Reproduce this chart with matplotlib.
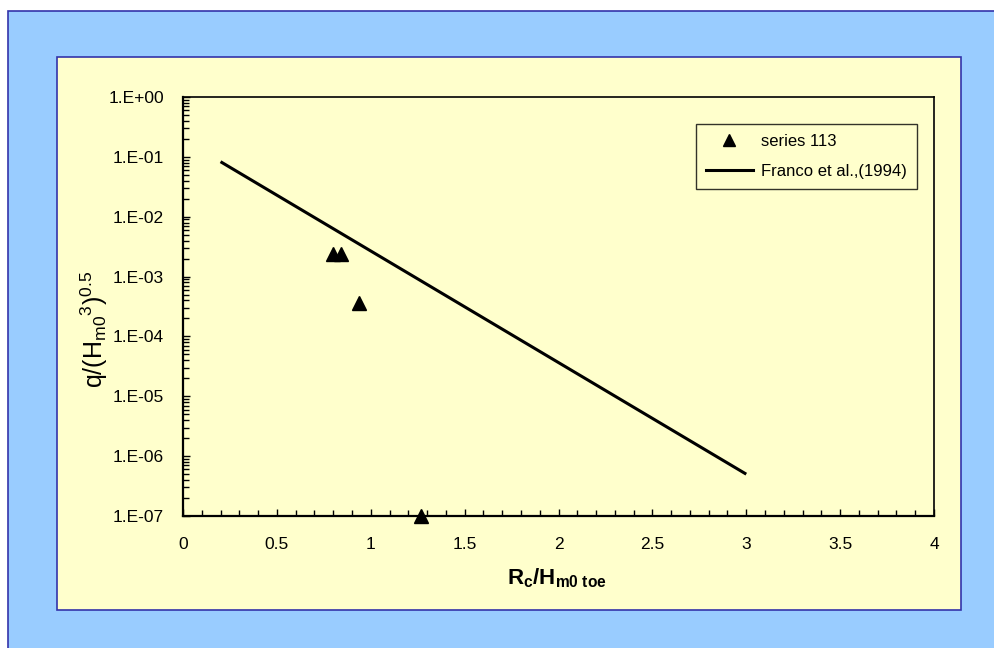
import matplotlib
matplotlib.use("Agg")
import matplotlib.pyplot as plt
from matplotlib.patches import Rectangle
from matplotlib.lines import Line2D
from matplotlib.ticker import FixedLocator, MultipleLocator, LogLocator, NullFormatter
import numpy as np

plt.rcParams['font.family'] = ['Liberation Sans', 'DejaVu Sans']
plt.rcParams['mathtext.fontset'] = 'custom'
plt.rcParams['mathtext.rm'] = 'Liberation Sans'
plt.rcParams['mathtext.it'] = 'Liberation Sans'
plt.rcParams['mathtext.bf'] = 'Liberation Sans:bold'

# data
series_x = [0.80, 0.84, 0.94, 1.27]
series_y = [2.35e-3, 2.35e-3, 3.6e-4, 1.0e-7]
franco_x = [0.2, 3.0]
franco_y = [8.3e-2, 5.0e-7]
xticks = [0, 0.5, 1, 1.5, 2, 2.5, 3, 3.5, 4]
xtick_labels = ['0', '0.5', '1', '1.5', '2', '2.5', '3', '3.5', '4']
yticks = [1e0, 1e-1, 1e-2, 1e-3, 1e-4, 1e-5, 1e-6, 1e-7]
ytick_labels = ['1.E+00', '1.E-01', '1.E-02', '1.E-03', '1.E-04', '1.E-05', '1.E-06', '1.E-07']

W, H = 994, 648
fig = plt.figure(figsize=(W / 100, H / 100), dpi=100)
fig.patch.set_facecolor('white')

def frect(x0, y0, x1, y1, **kw):
    # pixel coords (top-left origin) -> figure fraction
    return Rectangle((x0 / W, 1 - y1 / H), (x1 - x0) / W, (y1 - y0) / H,
                     transform=fig.transFigure, zorder=-10, **kw)

fig.patches.append(frect(8, 11, 1000, 660, facecolor='#99CCFF', edgecolor='#3333AA', linewidth=1.2))
fig.patches.append(frect(57, 57, 961, 610, facecolor='#FFFFCC', edgecolor='#3333AA', linewidth=1.2))

ax = fig.add_axes([183 / W, 1 - 516 / H, (934 - 183) / W, (516 - 97) / H])
ax.set_facecolor('#FFFFCC')
ax.set_yscale('log')
ax.set_xlim(0, 4)
ax.set_ylim(1e-7, 1e0)

ax.plot(franco_x, franco_y, color='black', linewidth=2.2, solid_capstyle='butt',
        label='Franco et al.,(1994)')
ax.plot(series_x, series_y, linestyle='none', marker='^', markersize=10,
        color='black', clip_on=False, zorder=5, label='series 113')

ax.xaxis.set_major_locator(FixedLocator(xticks))
ax.set_xticklabels(xtick_labels)
ax.xaxis.set_minor_locator(MultipleLocator(0.1))
ax.yaxis.set_major_locator(FixedLocator(yticks))
ax.set_yticklabels(ytick_labels)
ax.yaxis.set_minor_locator(LogLocator(base=10, subs=np.arange(2, 10)))
ax.yaxis.set_minor_formatter(NullFormatter())

ax.tick_params(axis='both', which='major', direction='in', length=5, width=1,
               labelsize=12.5, color='black')
ax.tick_params(axis='both', which='minor', direction='in', length=4, width=1, color='black')
ax.tick_params(axis='x', which='major', pad=15)
ax.tick_params(axis='y', which='major', pad=13.5)
for s in ax.spines.values():
    s.set_linewidth(1.2)
ax.spines['left'].set_linewidth(1.6)
ax.spines['bottom'].set_linewidth(1.6)

fig.text(557 / W, 1 - 578 / H, r'$\mathbf{R_{c}/H_{m0\ toe}}$', ha='center', va='center',
         fontsize=16)
fig.text(94 / W, 1 - 329 / H, r'$\mathrm{q/(H_{m0}{}^{3})^{0.5}}$', ha='center', va='center',
         rotation=90, fontsize=18)

handles = [Line2D([], [], linestyle='none', marker='^', markersize=8, color='black'),
           Line2D([], [], color='black', linewidth=2.2)]
leg = ax.legend(handles, ['series 113', 'Franco et al.,(1994)'], loc='upper right',
                bbox_to_anchor=(0.977, 0.935), frameon=True, fancybox=False,
                fontsize=12, handlelength=2.8, handletextpad=0.5, borderpad=0.6,
                labelspacing=0.9, borderaxespad=0)
leg.get_frame().set_edgecolor('black')
leg.get_frame().set_facecolor('#FFFFCC')
leg.get_frame().set_linewidth(1)

fig.savefig('out.png', dpi=100, facecolor=fig.get_facecolor())
